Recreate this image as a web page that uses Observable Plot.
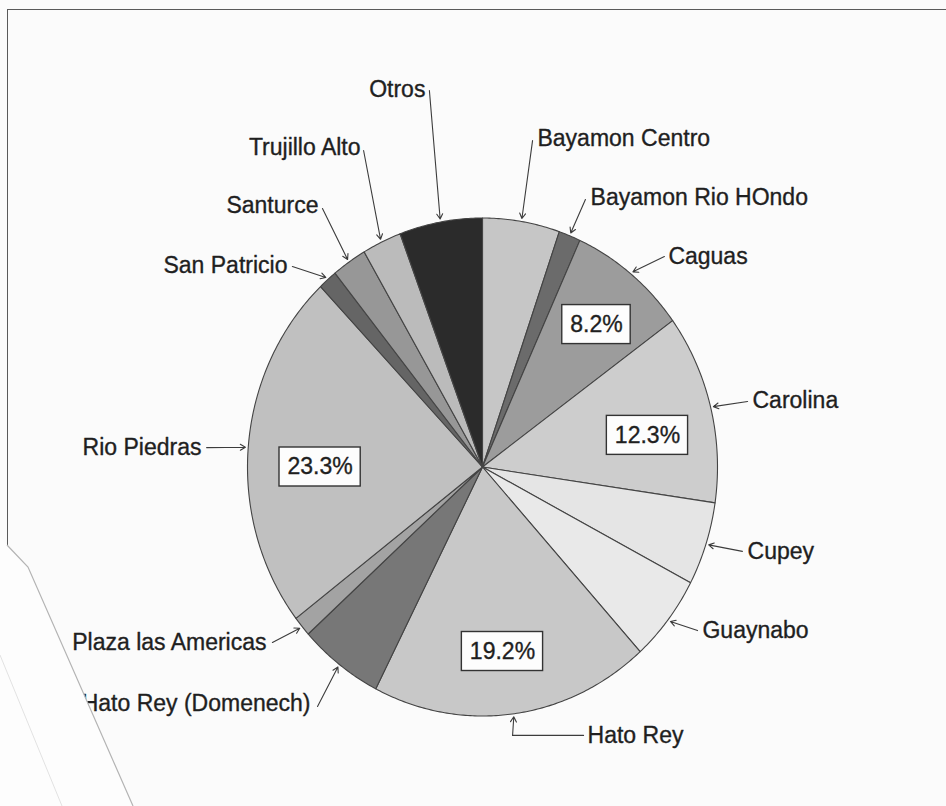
<!DOCTYPE html>
<html><head><meta charset="utf-8">
<script src="https://cdn.jsdelivr.net/npm/d3@7"></script>
<script src="https://cdn.jsdelivr.net/npm/@observablehq/plot@0.6"></script>
<style>
body{margin:0;background:#fbfbfb;}
#wrap{position:relative;width:946px;height:806px;overflow:hidden;background:#fbfbfb;}
#frame{position:absolute;left:7px;top:9px;width:945px;height:536px;border-top:1.6px solid #5a5a5a;border-left:1.6px solid #5a5a5a;pointer-events:none;}
#fold{position:absolute;left:0;top:0;pointer-events:none;}
#wrap svg.plot{position:absolute;left:0;top:0;}
</style></head><body>
<div id="wrap"><div id="frame"></div></div>
<script>
// ---- data (clockwise from 12 o'clock) ----
const categories = ["Bayamon Centro", "Bayamon Rio HOndo", "Caguas", "Carolina", "Cupey", "Guaynabo", "Hato Rey", "Hato Rey (Domenech)", "Plaza las Americas", "Rio Piedras", "San Patricio", "Santurce", "Trujillo Alto", "Otros"];
const shares = [5.3, 1.5, 8.2, 12.3, 5.4, 5.6, 19.2, 5.8, 1.3, 23.3, 1.3, 2.4, 2.7, 5.7];
const grays = ["#c6c6c6", "#6b6b6b", "#9c9c9c", "#cdcdcd", "#e5e5e5", "#e9e9e9", "#c8c8c8", "#777777", "#a3a3a3", "#c0c0c0", "#656565", "#979797", "#bbbbbb", "#2b2b2b"];

// ---- layout (pie units: radius = 1) ----
const labelAnchor = ["start", "start", "start", "start", "start", "start", "start", "end", "end", "end", "end", "end", "end", "end"];
const labelU = [0.234, 0.460, 0.791, 1.149, 1.128, 0.936, 0.447, -0.732, -0.919, -1.196, -0.830, -0.698, -0.519, -0.243];
const labelV = [1.319, 1.082, 0.845, 0.267, -0.339, -0.657, -1.078, -0.950, -0.705, 0.078, 0.809, 1.050, 1.283, 1.516];
const leadU = [0.213, 0.438, 0.774, 1.128, 1.106, 0.915, 0.430, -0.702, -0.894, -1.174, -0.809, -0.681, -0.506, -0.226];
const leadV = [1.311, 1.074, 0.845, 0.263, -0.339, -0.657, -1.078, -0.962, -0.705, 0.078, 0.805, 1.038, 1.271, 1.512];
const elbowU = [null, null, null, null, null, null, 0.128, null, null, null, null, null, null, null];
const boxU = [null, null, 0.485, 0.702, null, null, 0.085, null, null, -0.691, null, null, null, null];
const boxV = [null, null, 0.572, 0.127, null, null, -0.741, null, null, 0.000, null, null, null, null];

const FONT = "Liberation Sans, Arial, sans-serif";
const FS = 23;
const PXU = 235, PXV = 249, CX = 482, CY = 466.5, W = 946, H = 806;
const INK = "#1f1f1f";

const arcs = d3.pie().sort(null).value(d => d)(shares);
const slices = categories.map((name, i) => ({
  name, share: shares[i], a0: arcs[i].startAngle, a1: arcs[i].endAngle,
  mid: (arcs[i].startAngle + arcs[i].endAngle) / 2
}));

// slice polygons
const poly = slices.flatMap(s => {
  const n = Math.max(2, Math.ceil((s.a1 - s.a0) / 0.01));
  const pts = [{name: s.name, u: 0, v: 0}];
  for (let k = 0; k <= n; k++) {
    const a = s.a0 + (s.a1 - s.a0) * k / n;
    pts.push({name: s.name, u: Math.sin(a), v: Math.cos(a)});
  }
  pts.push({name: s.name, u: 0, v: 0});
  return pts;
});

// labels
const labels = slices.map((s, i) => ({name: s.name, anchor: labelAnchor[i], u: labelU[i], v: labelV[i]}));

// leaders
const tipR = 1.012;
const arrows = [], elbows = [];
slices.forEach((s, i) => {
  const tu = tipR * Math.sin(s.mid), tv = tipR * Math.cos(s.mid);
  if (elbowU[i] != null) {
    elbows.push({name: s.name, u: leadU[i], v: leadV[i]}, {name: s.name, u: elbowU[i], v: leadV[i]});
    arrows.push({x1: elbowU[i], y1: leadV[i], x2: tu, y2: tv});
  } else {
    arrows.push({x1: leadU[i], y1: leadV[i], x2: tu, y2: tv});
  }
});

// percentage boxes
const ctx = document.createElement("canvas").getContext("2d");
ctx.font = `${FS}px ${FONT}`;
const boxes = slices.map((s, i) => ({s, i})).filter(({i}) => boxU[i] != null).map(({s, i}) => {
  const text = s.share.toFixed(1) + "%";
  const hw = (ctx.measureText(text).width / 2 + 8) / PXU;
  const hh = 19.5 / PXV;
  return {text, u: boxU[i], v: boxV[i], x1: boxU[i] - hw, x2: boxU[i] + hw, y1: boxV[i] - hh, y2: boxV[i] + hh};
});

const textStyle = {fontSize: FS, fill: INK, stroke: INK, strokeWidth: 0.35};

const chart = Plot.plot({
  width: W, height: H,
  margin: 0,
  style: {background: "transparent", fontFamily: FONT, overflow: "visible"},
  x: {domain: [-CX / PXU, (W - CX) / PXU], range: [0, W], axis: null},
  y: {domain: [-(H - CY) / PXV, CY / PXV], range: [H, 0], axis: null},
  color: {domain: categories, range: grays},
  marks: [
    Plot.line(poly, {x: "u", y: "v", z: "name", fill: "name", stroke: "#444444", strokeWidth: 1.1, strokeLinejoin: "round", curve: "linear"}),
    Plot.line(elbows, {x: "u", y: "v", z: "name", stroke: "#3c3c3c", strokeWidth: 1.1}),
    Plot.arrow(arrows, {x1: "x1", y1: "y1", x2: "x2", y2: "y2", stroke: "#3c3c3c", strokeWidth: 1.1, headLength: 8}),
    Plot.text(labels.filter(d => d.anchor === "start"), {x: "u", y: "v", text: "name", textAnchor: "start", ...textStyle}),
    Plot.text(labels.filter(d => d.anchor === "end"), {x: "u", y: "v", text: "name", textAnchor: "end", ...textStyle}),
    Plot.rect(boxes, {x1: "x1", x2: "x2", y1: "y1", y2: "y2", fill: "#fdfdfd", stroke: "#333333", strokeWidth: 1.4}),
    Plot.text(boxes, {x: "u", y: "v", text: "text", ...textStyle})
  ]
});
const wrap = document.getElementById("wrap");
wrap.insertBefore(chart, wrap.firstChild);

// paper fold in the lower-left corner of the scan
const ns = "http://www.w3.org/2000/svg";
const fold = document.createElementNS(ns, "svg");
fold.setAttribute("id", "fold");
fold.setAttribute("width", W); fold.setAttribute("height", H);
fold.innerHTML = `<polygon points="0,536 7,545 28,567 133,806 0,806" fill="#fdfdfd"/>
<polyline points="7,545 28,567 133,806" fill="none" stroke="#b4b4b4" stroke-width="1.2"/>
<polyline points="0,655 62,806" fill="none" stroke="#e2e2e2" stroke-width="1"/>`;
wrap.appendChild(fold);
</script>
</body></html>
